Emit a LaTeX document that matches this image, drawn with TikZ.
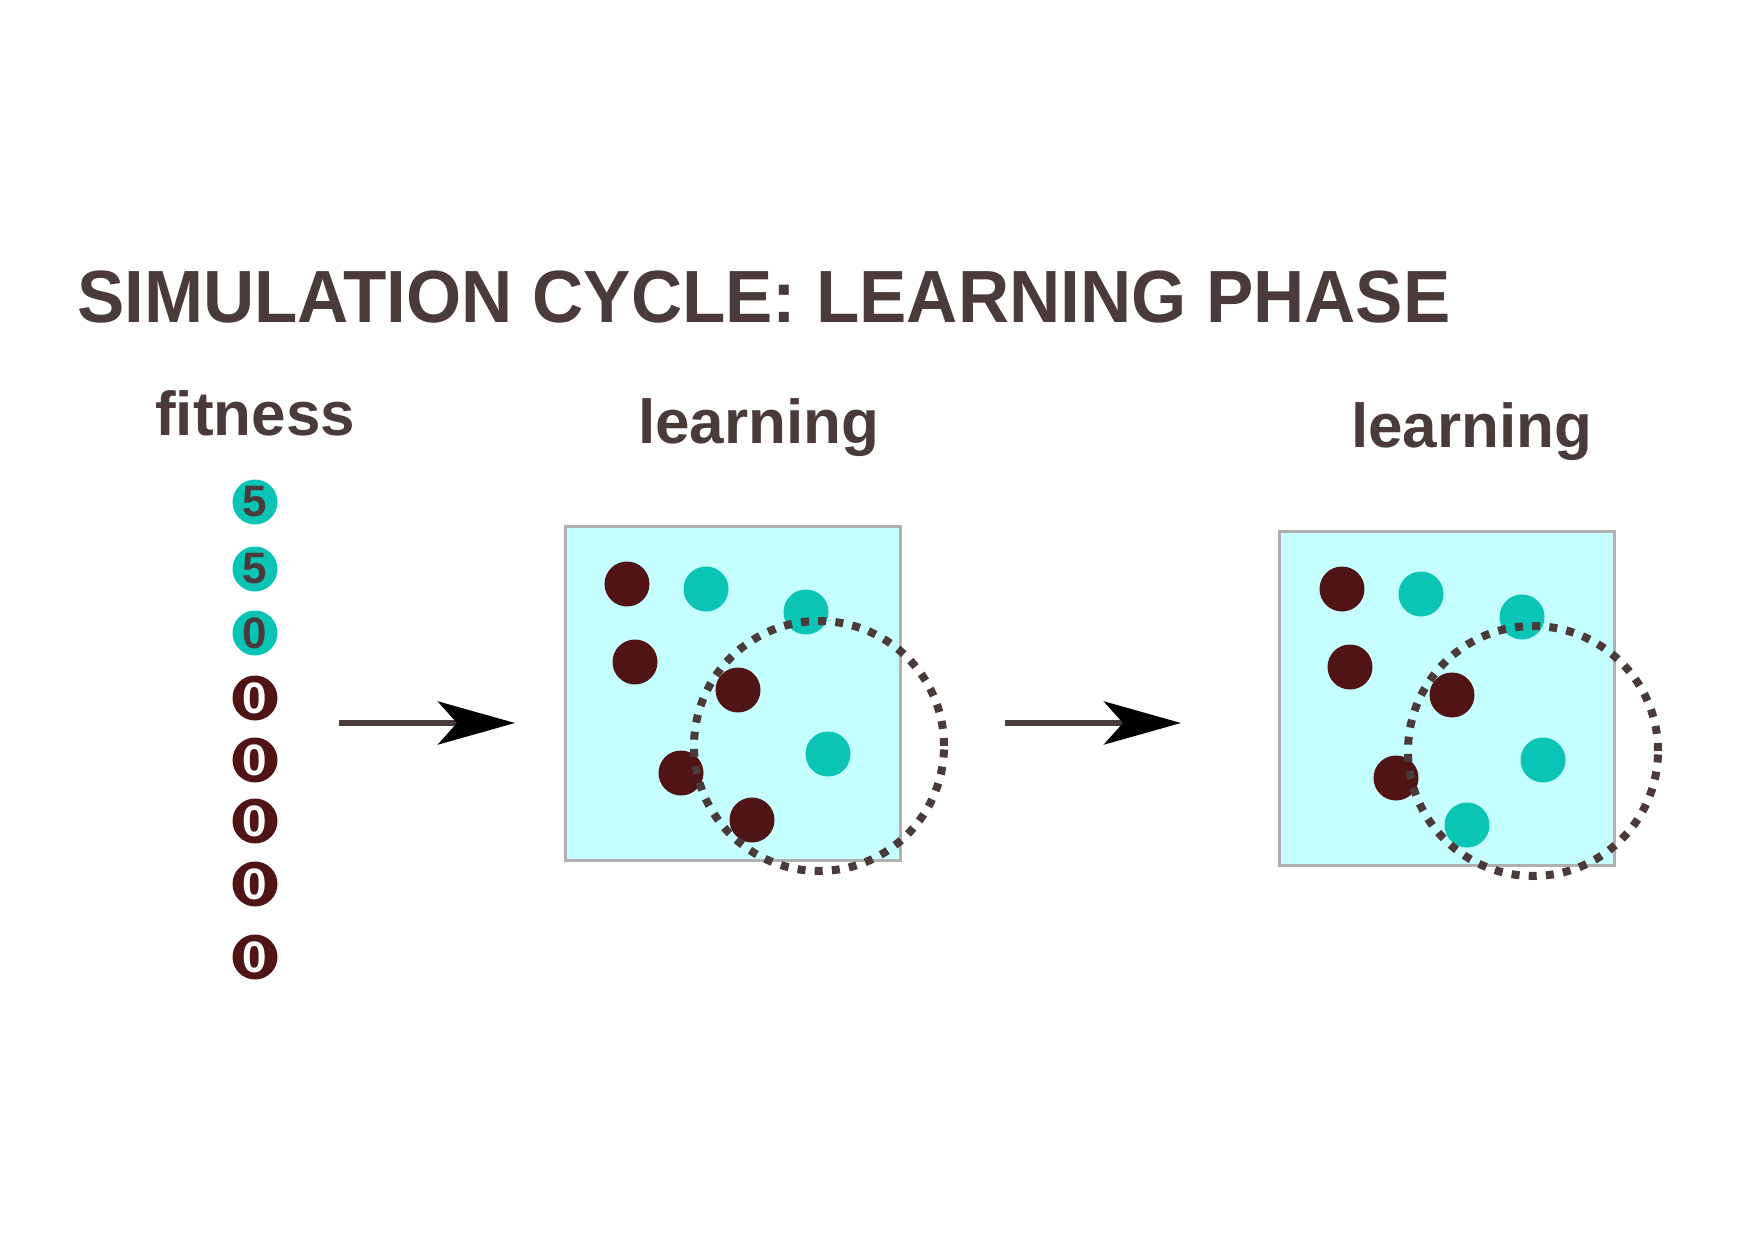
\documentclass[tikz,border=0pt]{standalone}
\usepackage{fontspec}
\usepackage{graphicx}
\setmainfont{Liberation Sans}
\usetikzlibrary{arrows.meta}
\definecolor{ink}{RGB}{74,58,58}
\definecolor{tealdot}{RGB}{10,196,182}
\definecolor{maroondot}{RGB}{80,20,20}
\definecolor{cyanbg}{RGB}{198,255,255}
\definecolor{framegray}{RGB}{176,176,176}
\begin{document}
\begin{tikzpicture}[x=1pt,y=-1pt,
  dot/.style={circle, inner sep=0pt, minimum size=45pt},
  tdot/.style={dot, fill=tealdot},
  bdot/.style={dot, fill=maroondot},
  fitfive/.style={tdot, text=ink, font=\bfseries\fontsize{44}{44}\selectfont},
  fitzero/.style={bdot, text=white, font=\bfseries\fontsize{44}{44}\selectfont},
  lab/.style={anchor=base west, inner sep=0pt, text=ink, font=\bfseries\fontsize{62}{62}\selectfont},
  arena/.style={rectangle, draw=framegray, line width=3pt, fill=cyanbg, minimum width=335pt, minimum height=334pt, inner sep=0pt},
  zone/.style={circle, draw=ink, line width=8pt, dash pattern=on 8pt off 9.2pt, minimum size=250pt, inner sep=0pt},
  flow/.style={draw=ink, line width=6.5pt, -{Stealth[length=77pt,width=43pt,inset=19pt,color=black]}}
]
\useasboundingbox (0,0) rectangle (1754,1241);
\fill[white] (0,0) rectangle (1754,1241);

% title and labels
\node[anchor=base west, inner sep=0pt, text=ink, font=\bfseries\fontsize{74}{74}\selectfont] (title) at (77,323) {\scalebox{0.958}[1]{SIMULATION CYCLE: LEARNING PHASE}};
\node[lab] (fitlab) at (155,435) {fitness};
\node[lab] (learnA) at (638,443) {learning};
\node[lab] (learnB) at (1351,447) {learning};

% fitness column
\node[fitfive] (f1) at (255,502) {5};
\node[fitfive] (f2) at (255,569) {5};
\node[fitfive] (f3) at (255,633) {0};
\node[fitzero] (f4) at (255,698) {0};
\node[fitzero] (f5) at (255,760) {0};
\node[fitzero] (f6) at (255,821) {0};
\node[fitzero] (f7) at (255,884) {0};
\node[fitzero] (f8) at (255,957) {0};

% first arena
\node[arena] (boxA) at (733,693) {};
\node[bdot] (a1) at (627,584) {};
\node[tdot] (a2) at (706,589) {};
\node[tdot] (a3) at (806,612) {};
\node[bdot] (a4) at (635,662) {};
\node[bdot] (a5) at (738,690) {};
\node[tdot] (a6) at (828,754) {};
\node[bdot] (a7) at (681,773) {};
\node[bdot] (a8) at (752,820) {};
\node[zone] (zoneA) at (819,746) {};

% second arena
\node[arena] (boxB) at (1447,698) {};
\node[bdot] (b1) at (1342,589) {};
\node[tdot] (b2) at (1421,594) {};
\node[tdot] (b3) at (1522,617) {};
\node[bdot] (b4) at (1350,667) {};
\node[bdot] (b5) at (1452,695) {};
\node[tdot] (b6) at (1543,760) {};
\node[bdot] (b7) at (1396,778) {};
\node[tdot] (b8) at (1467,825) {};
\node[zone] (zoneB) at (1533,751) {};

% arrows
\coordinate (arAs) at (339,723);
\coordinate (arAe) at (515,723);
\coordinate (arBs) at (1005,723);
\coordinate (arBe) at (1181,723);
\draw[flow] (arAs) -- (arAe);
\draw[flow] (arBs) -- (arBe);
\end{tikzpicture}
\end{document}
